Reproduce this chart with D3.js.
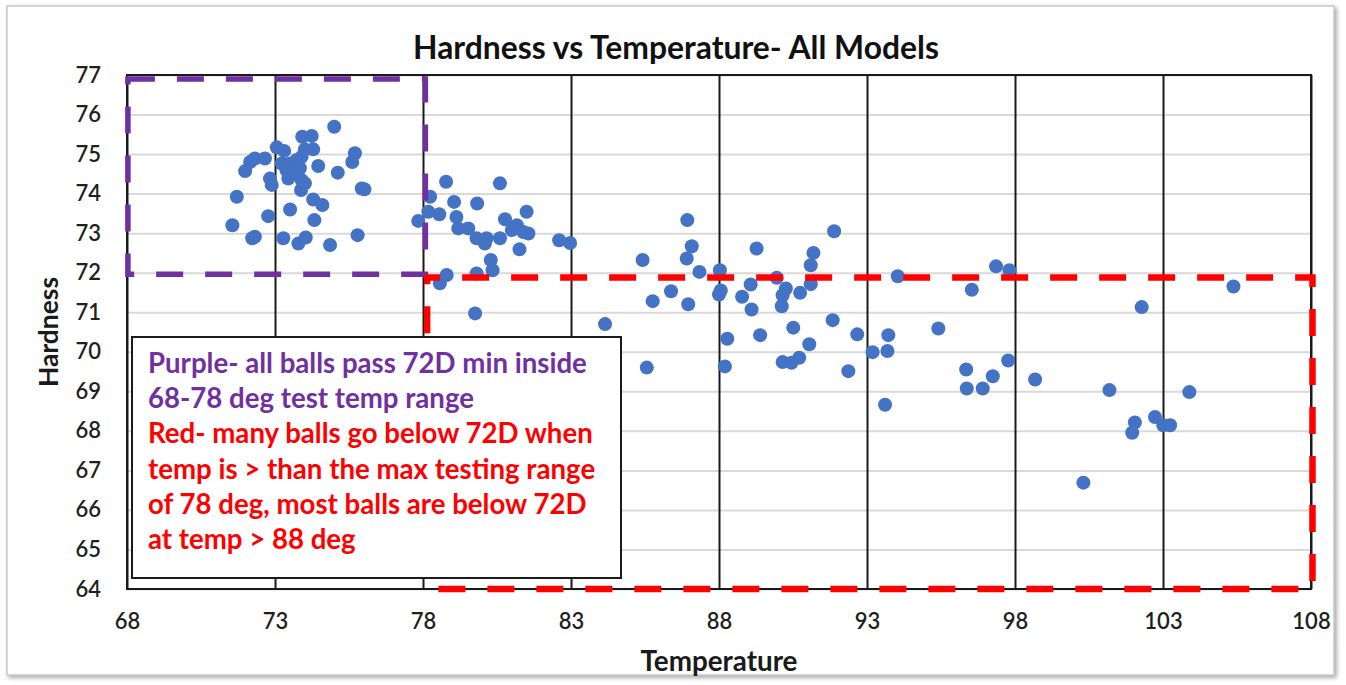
<!DOCTYPE html>
<html>
<head>
<meta charset="utf-8">
<script src="https://cdn.jsdelivr.net/npm/d3@7"></script>
<style>
  html, body { margin: 0; padding: 0; background: #fff; }
  svg { display: block; }
</style>
</head>
<body>
<svg id="chart" width="1346" height="685"></svg>
<script>
// Hardness readings against ball temperature, all models
const temperature = [
  75.00, 73.92, 74.24, 73.06, 73.31, 74.01, 74.29, 72.32, 72.66, 72.16,
  75.70, 75.61, 71.99, 74.46, 73.23, 73.51, 73.73, 73.90, 73.39, 73.62,
  73.84, 73.45, 72.83, 72.89, 73.90, 74.01, 73.88, 75.12, 75.93, 76.02,
  71.71, 74.29, 74.60, 73.51, 72.77, 74.33, 71.56, 72.32, 72.23, 73.28,
  73.79, 74.04, 74.86, 75.79,
  77.84, 78.78, 80.60, 78.24, 79.05, 79.83, 78.18, 78.55, 79.13, 79.19,
  79.53, 79.81, 80.15, 80.09, 80.60, 80.77, 81.17, 81.00, 81.50, 81.39,
  81.56, 81.26, 82.60, 82.97, 80.29, 80.35, 79.81, 78.80, 78.57, 79.76,
  84.15, 85.42, 85.56, 86.93, 87.08, 86.91, 87.34, 86.38, 85.76, 86.96,
  88.03, 88.06, 88.00, 89.27, 89.07, 88.78, 89.10, 89.95, 90.26, 90.15,
  90.12, 90.74, 91.19, 91.10, 91.10, 91.89, 91.84, 88.28, 89.39, 90.51,
  91.05, 92.67, 93.72, 93.19, 93.69, 88.20, 90.15, 90.45, 90.71, 92.37,
  93.61, 94.04, 95.41, 97.36, 97.81, 96.54, 97.77, 96.35, 96.37, 96.91,
  97.25, 98.68, 101.19, 102.28, 102.05, 101.96, 102.73, 103.01, 103.24, 103.89,
  100.31, 105.38
];
const hardness = [
  75.69, 75.44, 75.46, 75.17, 75.08, 75.12, 75.12, 74.89, 74.89, 74.80,
  75.02, 74.80, 74.57, 74.70, 74.76, 74.76, 74.85, 74.93, 74.59, 74.55,
  74.64, 74.38, 74.38, 74.22, 74.34, 74.26, 74.09, 74.53, 74.13, 74.11,
  73.92, 73.85, 73.71, 73.60, 73.43, 73.33, 73.20, 72.91, 72.87, 72.87,
  72.74, 72.89, 72.70, 72.95,
  73.31, 74.30, 74.26, 73.92, 73.79, 73.75, 73.54, 73.48, 73.41, 73.12,
  73.12, 72.87, 72.87, 72.74, 72.87, 73.35, 73.20, 73.08, 73.54, 73.03,
  72.99, 72.59, 72.82, 72.75, 72.32, 72.06, 71.98, 71.94, 71.73, 70.97,
  70.70, 72.32, 69.60, 73.33, 72.67, 72.36, 72.02, 71.53, 71.28, 71.20,
  72.06, 71.55, 71.45, 72.61, 71.70, 71.39, 71.07, 71.87, 71.60, 71.43,
  71.15, 71.49, 72.50, 72.19, 71.71, 73.05, 70.80, 70.33, 70.42, 70.61,
  70.19, 70.44, 70.42, 69.99, 70.02, 69.63, 69.74, 69.72, 69.85, 69.51,
  68.66, 71.91, 70.59, 72.16, 72.06, 71.57, 69.78, 69.55, 69.07, 69.07,
  69.38, 69.30, 69.03, 71.13, 68.21, 67.95, 68.35, 68.14, 68.14, 68.98,
  66.69, 71.65
];

const xTicks = [68, 73, 78, 83, 88, 93, 98, 103, 108];
const yTicks = [64, 65, 66, 67, 68, 69, 70, 71, 72, 73, 74, 75, 76, 77];

const chartTitle = "Hardness vs Temperature- All Models";
const xTitle = "Temperature";
const yTitle = "Hardness";

// Highlighted zones (temperature range, hardness range)
const purpleZone = { t0: 68.03, t1: 78.08, h0: 71.96, h1: 76.9 };
const redZone = { t0: 78.14, t1: 108.05, h0: 64.0, h1: 71.88 };

const notePurple = [
  "Purple- all balls pass 72D min inside",
  "68-78 deg test temp range"
];
const noteRed = [
  "Red- many balls go below 72D when",
  "temp is > than the max testing range",
  "of 78 deg, most balls are below 72D",
  "at temp > 88 deg"
];

const W = 1346, H = 685;
const plot = { left: 127, right: 1311, top: 75, bottom: 589 };
const FONT = "Lato, 'Noto Sans', sans-serif";

const svg = d3.select("#chart");

// drop shadow for the outer frame
const defs = svg.append("defs");
const f = defs.append("filter").attr("id", "frameShadow")
  .attr("x", "-5%").attr("y", "-5%").attr("width", "110%").attr("height", "110%");
f.append("feDropShadow").attr("dx", 2).attr("dy", 2).attr("stdDeviation", 2.2)
  .attr("flood-color", "#7f7f7f").attr("flood-opacity", 0.7);

svg.append("rect")
  .attr("x", 7).attr("y", 6).attr("width", 1327).attr("height", 669)
  .attr("fill", "#fff").attr("stroke", "#c9c9c9").attr("stroke-width", 1.5)
  .attr("filter", "url(#frameShadow)");

const x = d3.scaleLinear().domain([68, 108]).range([plot.left, plot.right]);
const y = d3.scaleLinear().domain([64, 77]).range([plot.bottom, plot.top]);

// horizontal gridlines
svg.append("g")
  .attr("transform", `translate(${plot.left},0)`)
  .call(d3.axisLeft(y).tickValues(yTicks).tickSize(-(plot.right - plot.left)).tickFormat(""))
  .call(g => g.select(".domain").remove())
  .call(g => g.selectAll("line").attr("stroke", "#d9d9d9").attr("stroke-width", 2));

// vertical gridlines
svg.append("g")
  .attr("transform", `translate(0,${plot.bottom})`)
  .call(d3.axisBottom(x).tickValues(xTicks).tickSize(-(plot.bottom - plot.top)).tickFormat(""))
  .call(g => g.select(".domain").remove())
  .call(g => g.selectAll("line").attr("stroke", "#1a1a1a").attr("stroke-width", 2));

// plot border
svg.append("rect")
  .attr("x", plot.left).attr("y", plot.top)
  .attr("width", plot.right - plot.left).attr("height", plot.bottom - plot.top)
  .attr("fill", "none").attr("stroke", "#1a1a1a").attr("stroke-width", 2);

// tick labels
svg.append("g")
  .attr("transform", `translate(${plot.left},0)`)
  .call(d3.axisLeft(y).tickValues(yTicks).tickSize(0).tickPadding(26))
  .call(g => g.select(".domain").remove())
  .call(g => g.selectAll("text").attr("font-family", FONT).attr("font-size", 22)
    .attr("fill", "#1f1f1f").attr("font-weight", 600));

svg.append("g")
  .attr("transform", `translate(0,${plot.bottom})`)
  .call(d3.axisBottom(x).tickValues(xTicks).tickSize(0).tickPadding(24))
  .call(g => g.select(".domain").remove())
  .call(g => g.selectAll("text").attr("font-family", FONT).attr("font-size", 22)
    .attr("fill", "#1f1f1f").attr("font-weight", 600));

// points
svg.append("g").selectAll("circle")
  .data(d3.zip(temperature, hardness))
  .join("circle")
  .attr("cx", d => x(d[0]))
  .attr("cy", d => y(d[1]))
  .attr("r", 7)
  .attr("fill", "#4472C4");

// dashed zone outlines
function zonePath(z) {
  const p = d3.path();
  p.moveTo(x(z.t0), y(z.h1));
  p.lineTo(x(z.t1), y(z.h1));
  p.lineTo(x(z.t1), y(z.h0));
  p.lineTo(x(z.t0), y(z.h0));
  p.closePath();
  return p.toString();
}
svg.append("path").attr("d", zonePath(purpleZone))
  .attr("fill", "none").attr("stroke", "#7030A0").attr("stroke-width", 5.5)
  .attr("stroke-dasharray", "27 22");
svg.append("path").attr("d", zonePath(redZone))
  .attr("fill", "none").attr("stroke", "#FF0000").attr("stroke-width", 6.5)
  .attr("stroke-dasharray", "27 22").attr("stroke-dashoffset", 14);

// fit text to a given width
function fitWidth(sel, target) {
  const w = sel.node().getComputedTextLength();
  const fs = parseFloat(sel.attr("font-size"));
  sel.attr("font-size", fs * target / w);
  return sel;
}

// title
fitWidth(svg.append("text")
  .attr("x", 676).attr("y", 59)
  .attr("text-anchor", "middle")
  .attr("font-family", FONT).attr("font-weight", 700).attr("font-size", 26)
  .attr("fill", "#111").text(chartTitle), 526);

// axis titles
fitWidth(svg.append("text")
  .attr("x", (plot.left + plot.right) / 2).attr("y", 671)
  .attr("text-anchor", "middle")
  .attr("font-family", FONT).attr("font-weight", 700).attr("font-size", 22)
  .attr("fill", "#1a1a1a").text(xTitle), 157);

fitWidth(svg.append("text")
  .attr("transform", `translate(58,${(plot.top + plot.bottom) / 2}) rotate(-90)`)
  .attr("text-anchor", "middle")
  .attr("font-family", FONT).attr("font-weight", 700).attr("font-size", 22)
  .attr("fill", "#1a1a1a").text(yTitle), 110);

// annotation box
const box = svg.append("g");
box.append("rect")
  .attr("x", 132).attr("y", 337).attr("width", 489).attr("height", 241)
  .attr("fill", "#fff").attr("stroke", "#1a1a1a").attr("stroke-width", 2);

const first = box.append("text")
  .attr("x", 148).attr("y", 373)
  .attr("font-family", FONT).attr("font-weight", 700).attr("font-size", 24)
  .attr("fill", "#7030A0").text(notePurple[0]);
fitWidth(first, 439);
const noteSize = first.attr("font-size");

const lines = notePurple.map(t => ({ t, c: "#7030A0" }))
  .concat(noteRed.map(t => ({ t, c: "#FF0000" })));
lines.slice(1).forEach((l, i) => {
  box.append("text")
    .attr("x", 148).attr("y", 373 + (i + 1) * 35.2)
    .attr("font-family", FONT).attr("font-weight", 700).attr("font-size", noteSize)
    .attr("fill", l.c).text(l.t);
});
</script>
</body>
</html>
